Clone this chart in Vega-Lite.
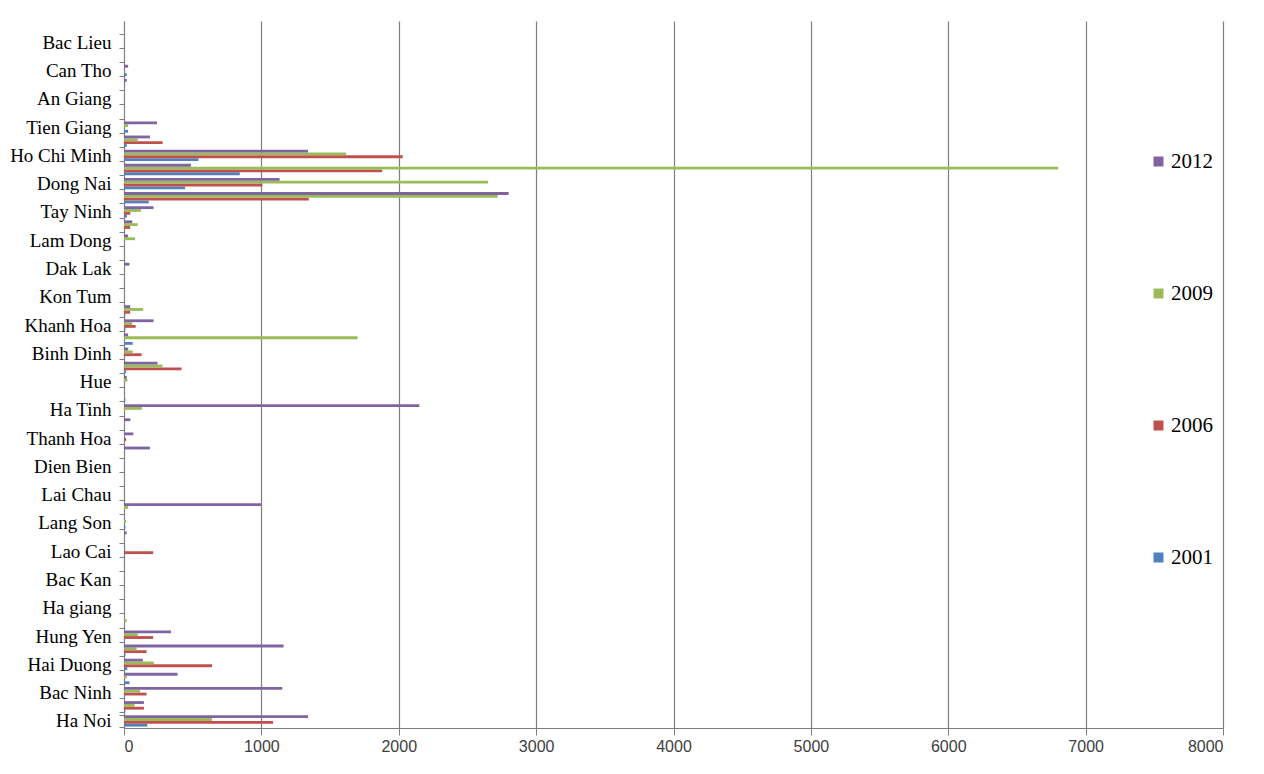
{
  "$schema": "https://vega.github.io/schema/vega-lite/v6.json",
  "autosize": "none",
  "padding": {"left": 124, "top": 21, "right": 41, "bottom": 46},
  "width": 1099,
  "height": 707,
  "background": "white",
  "config": {"view": {"stroke": null}},
  "data": {"values": [
    {"p": "Ha Noi", "2001": 170, "2006": 1085, "2009": 640, "2012": 1340},
    {"p": "Vinh Phuc", "2001": 10, "2006": 145, "2009": 77, "2012": 145},
    {"p": "Bac Ninh", "2001": 5, "2006": 164, "2009": 116, "2012": 1152},
    {"p": "Quang Ninh", "2001": 40, "2006": 5, "2009": 20, "2012": 390},
    {"p": "Hai Duong", "2001": 24, "2006": 641, "2009": 217, "2012": 137},
    {"p": "Hai Phong", "2001": 10, "2006": 164, "2009": 92, "2012": 1162},
    {"p": "Hung Yen", "2001": 5, "2006": 212, "2009": 100, "2012": 342},
    {"p": "Thai Binh", "2001": 0, "2006": 0, "2009": 20, "2012": 0},
    {"p": "Ha giang", "2001": 0, "2006": 0, "2009": 0, "2012": 0},
    {"p": "Cao Bang", "2001": 0, "2006": 0, "2009": 0, "2012": 0},
    {"p": "Bac Kan", "2001": 0, "2006": 0, "2009": 0, "2012": 0},
    {"p": "Tuyen Quang", "2001": 0, "2006": 0, "2009": 0, "2012": 0},
    {"p": "Lao Cai", "2001": 0, "2006": 212, "2009": 0, "2012": 0},
    {"p": "Thai Nguyen", "2001": 0, "2006": 0, "2009": 0, "2012": 20},
    {"p": "Lang Son", "2001": 10, "2006": 0, "2009": 15, "2012": 0},
    {"p": "Bac Giang", "2001": 0, "2006": 0, "2009": 30, "2012": 1000},
    {"p": "Lai Chau", "2001": 0, "2006": 0, "2009": 0, "2012": 0},
    {"p": "Son La", "2001": 0, "2006": 0, "2009": 0, "2012": 0},
    {"p": "Dien Bien", "2001": 0, "2006": 0, "2009": 0, "2012": 0},
    {"p": "Hoa Binh", "2001": 0, "2006": 0, "2009": 0, "2012": 189},
    {"p": "Thanh Hoa", "2001": 0, "2006": 15, "2009": 0, "2012": 68},
    {"p": "Nghe An", "2001": 0, "2006": 0, "2009": 0, "2012": 46},
    {"p": "Ha Tinh", "2001": 0, "2006": 0, "2009": 130, "2012": 2150},
    {"p": "Quang Binh", "2001": 10, "2006": 0, "2009": 0, "2012": 0},
    {"p": "Hue", "2001": 0, "2006": 0, "2009": 25, "2012": 20},
    {"p": "Da Nang", "2001": 15, "2006": 419, "2009": 280, "2012": 244},
    {"p": "Binh Dinh", "2001": 0, "2006": 128, "2009": 63, "2012": 31},
    {"p": "Phu Yen", "2001": 63, "2006": 0, "2009": 1700, "2012": 30},
    {"p": "Khanh Hoa", "2001": 10, "2006": 85, "2009": 60, "2012": 215},
    {"p": "Binh Thuan", "2001": 10, "2006": 45, "2009": 140, "2012": 45},
    {"p": "Kon Tum", "2001": 0, "2006": 0, "2009": 0, "2012": 0},
    {"p": "Gia Lai", "2001": 0, "2006": 0, "2009": 0, "2012": 0},
    {"p": "Dak Lak", "2001": 0, "2006": 0, "2009": 0, "2012": 40},
    {"p": "Dak Nong", "2001": 0, "2006": 0, "2009": 0, "2012": 0},
    {"p": "Lam Dong", "2001": 0, "2006": 0, "2009": 80, "2012": 30},
    {"p": "Binh Phuoc", "2001": 0, "2006": 45, "2009": 100, "2012": 60},
    {"p": "Tay Ninh", "2001": 22, "2006": 46, "2009": 123, "2012": 215},
    {"p": "Binh Duong", "2001": 180, "2006": 1345, "2009": 2720, "2012": 2800},
    {"p": "Dong Nai", "2001": 445, "2006": 1007, "2009": 2650, "2012": 1133},
    {"p": "Ba Ria Vung Tau", "2001": 843, "2006": 1879, "2009": 6800, "2012": 487},
    {"p": "Ho Chi Minh", "2001": 542, "2006": 2029, "2009": 1617, "2012": 1339},
    {"p": "Long An", "2001": 20, "2006": 281, "2009": 100, "2012": 189},
    {"p": "Tien Giang", "2001": 30, "2006": 0, "2009": 30, "2012": 240},
    {"p": "Ben Tre", "2001": 0, "2006": 0, "2009": 0, "2012": 0},
    {"p": "An Giang", "2001": 0, "2006": 0, "2009": 0, "2012": 0},
    {"p": "Kien Giang", "2001": 0, "2006": 0, "2009": 0, "2012": 20},
    {"p": "Can Tho", "2001": 20, "2006": 0, "2009": 0, "2012": 30},
    {"p": "Soc Trang", "2001": 0, "2006": 0, "2009": 0, "2012": 0},
    {"p": "Bac Lieu", "2001": 0, "2006": 0, "2009": 0, "2012": 0},
    {"p": "Ca Mau", "2001": 0, "2006": 0, "2009": 0, "2012": 0}
  ]},
  "transform": [{"fold": ["2001", "2006", "2009", "2012"], "as": ["year", "v"]}],
  "mark": {"type": "bar"},
  "encoding": {
    "y": {
      "field": "p", "type": "nominal", "sort": null,
      "scale": {"reverse": true, "paddingInner": 0.2, "paddingOuter": 0.1},
      "axis": {
        "title": null,
        "tickBand": "extent",
        "domainColor": "#7f7f7f",
        "tickColor": "#7f7f7f",
        "tickSize": 5,
        "labelPadding": 8,
        "labelFont": "Liberation Serif",
        "labelFontSize": 19,
        "labelColor": "#000000",
        "labelExpr": "indexof(['Ha Noi','Bac Ninh','Hai Duong','Hung Yen','Ha giang','Bac Kan','Lao Cai','Lang Son','Lai Chau','Dien Bien','Thanh Hoa','Ha Tinh','Hue','Binh Dinh','Khanh Hoa','Kon Tum','Dak Lak','Lam Dong','Tay Ninh','Dong Nai','Ho Chi Minh','Tien Giang','An Giang','Can Tho','Bac Lieu'], datum.value) >= 0 ? datum.value : ''"
      }
    },
    "yOffset": {"field": "year", "type": "nominal", "sort": ["2012", "2009", "2006", "2001"], "scale": {"paddingInner": 0, "paddingOuter": 0}},
    "x": {
      "field": "v", "type": "quantitative",
      "scale": {"domain": [0, 8000], "nice": false},
      "axis": {
        "title": null,
        "values": [0, 1000, 2000, 3000, 4000, 5000, 6000, 7000, 8000],
        "format": "d",
        "grid": true,
        "gridColor": "#7f7f7f",
        "gridWidth": 1.2,
        "domainColor": "#7f7f7f",
        "tickColor": "#7f7f7f",
        "tickSize": 7,
        "labelPadding": 3,
        "labelFont": "Liberation Sans",
        "labelFontSize": 16,
        "labelColor": "#404040"
      }
    },
    "color": {
      "field": "year", "type": "nominal",
      "scale": {"domain": ["2012", "2009", "2006", "2001"], "range": ["#8064A2", "#9BBB59", "#C0504D", "#4F81BD"]},
      "legend": {
        "title": null,
        "orient": "none",
        "legendX": 1024,
        "legendY": 130,
        "padding": 0,
        "symbolType": "square",
        "symbolSize": 100,
        "symbolStrokeWidth": 0,
        "labelFont": "Liberation Serif",
        "labelFontSize": 21,
        "labelColor": "#000000",
        "labelOffset": 2,
        "rowPadding": 110
      }
    }
  }
}
